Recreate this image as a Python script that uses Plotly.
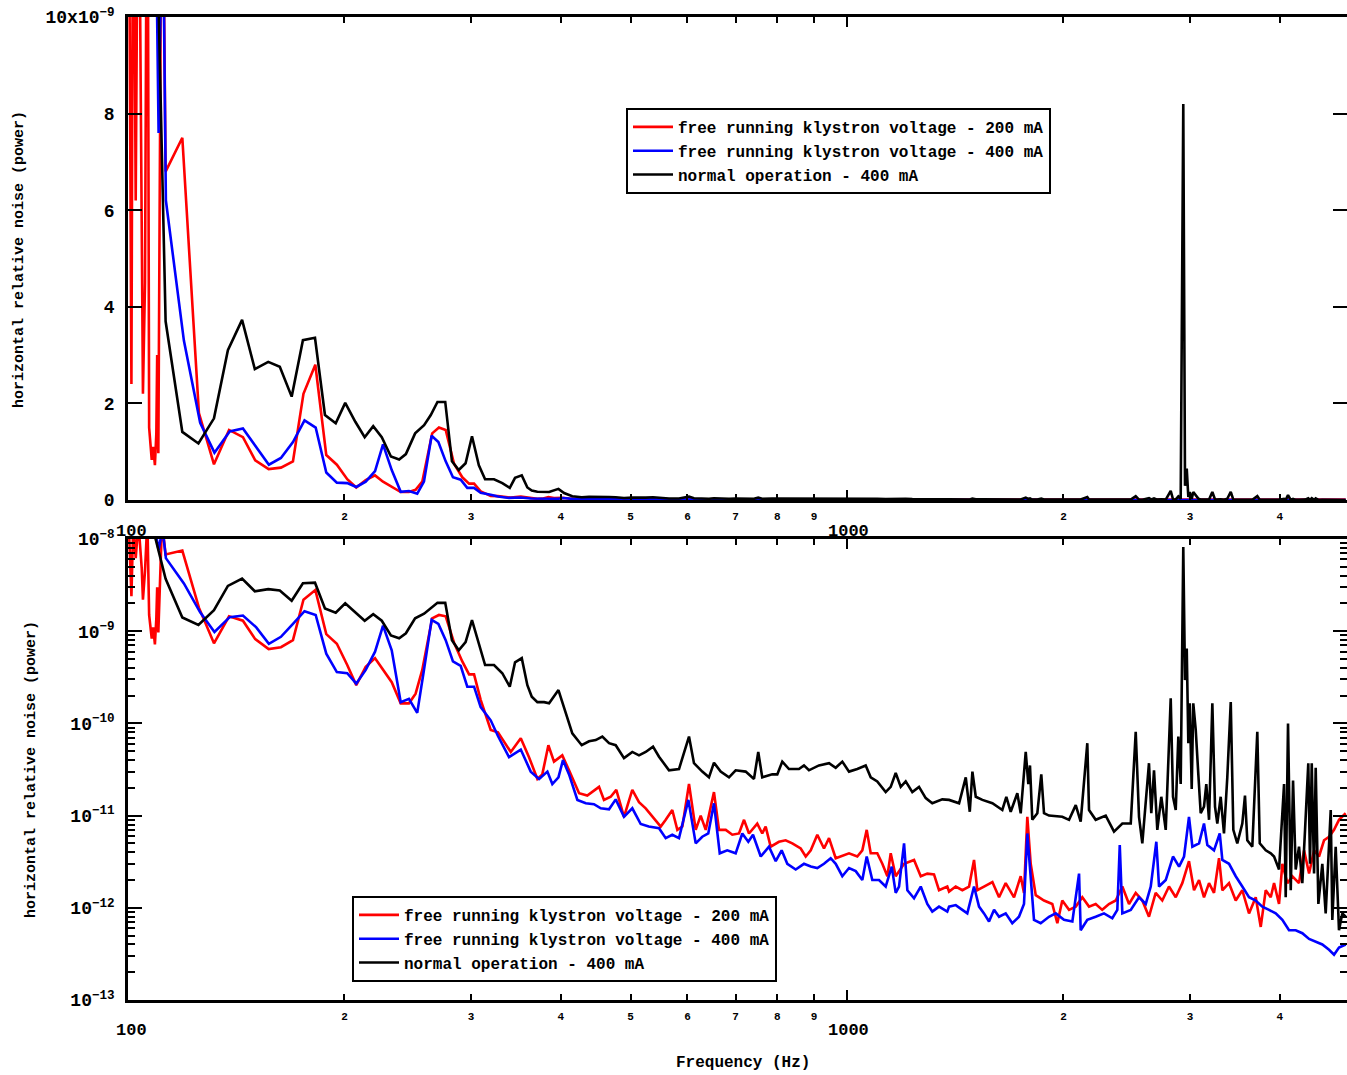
import plotly.graph_objects as go

W, H = 1347, 1075

# ---------------- data (frequency in Hz, relative noise power) ----------------
red_freq = [100.3, 101.1, 101.7, 102.5, 103.4, 104.5, 104.9, 105.6, 106.4, 107.0, 107.9, 108.4, 109.0, 109.5,
            109.8, 110.2, 111.5, 112.8, 119.0, 125.5, 131.7, 138.2, 144.5, 150.3, 156.9, 163.2, 169.6, 175.4,
            182.2, 188.7, 195.2, 201.8, 207.7, 214.1, 220.6, 226.3, 232.7, 239.5, 245.9, 251.2, 256.6, 264.9,
            270.7, 276.6, 284.1, 291.7, 298.1, 302.9, 309.4, 319.5, 327.0, 340.7, 351.8, 361.2, 371.0, 376.9,
            384.3, 391.3, 401.8, 410.6, 424.0, 435.3, 442.4, 452.0, 459.2, 469.2, 477.7, 489.6, 502.8, 513.7,
            524.8, 539.0, 550.7, 559.6, 571.5, 580.8, 590.2, 602.9, 616.0, 625.9, 636.1, 653.1, 663.7, 678.2,
            692.6, 707.6, 719.1, 730.6, 750.2, 762.3, 770.7, 783.2, 804.2, 821.6, 839.3, 862.2, 876.2, 890.4,
            909.3, 929.0, 944.1, 964.5, 985.1, 1006.5, 1033.5, 1050.3, 1065.2, 1078.9, 1101.8, 1119.8, 1138.0,
            1150.3, 1168.8, 1200.5, 1239.5, 1266.4, 1293.3, 1321.3, 1342.7, 1378.7, 1386.6, 1416.5, 1446.9,
            1478.3, 1502.0, 1517.9, 1550.7, 1593.0, 1627.4, 1662.3, 1707.3, 1744.2, 1762.7, 1781.5, 1800.9,
            1830.2, 1879.4, 1929.9, 1961.3, 1992.6, 2036.2, 2080.4, 2124.6, 2170.7, 2217.7, 2264.6, 2313.7,
            2364.7, 2415.2, 2467.4, 2520.9, 2574.8, 2630.3, 2687.2, 2744.7, 2804.3, 2865.6, 2926.4, 2989.8,
            3038.5, 3087.7, 3137.1, 3188.1, 3239.2, 3291.8, 3326.8, 3398.9, 3472.5, 3546.6, 3623.6, 3702.2,
            3762.3, 3822.6, 3884.7, 3926.1, 3989.1, 4031.6, 4097.1, 4162.7, 4252.7, 4321.9, 4392.1, 4462.5,
            4533.9, 4607.6, 4682.4, 4757.6, 4833.7, 4938.4]
red_val = [1.3e-8, 2.4e-9, 1.5e-8, 6.2e-9, 1.5e-8, 4.8e-9, 2.2e-9, 4.5e-9, 1.6e-8, 1.5e-9, 0.83e-9, 1.1e-9, 0.72e-9, 1.38e-9,
           3.0e-9, 0.97e-9, 1.5e-8, 6.8e-9, 7.5e-9, 1.8e-9, 0.74e-9, 1.45e-9, 1.3e-9, 0.82e-9, 0.64e-9, 0.67e-9, 0.8e-9, 2.2e-9,
           2.8e-9, 0.93e-9, 0.73e-9, 0.43e-9, 0.26e-9, 0.41e-9, 0.51e-9, 0.38e-9, 0.28e-9, 0.165e-9, 0.165e-9, 0.21e-9, 0.38e-9, 1.38e-9,
           1.5e-9, 1.45e-9, 0.75e-9, 0.47e-9, 0.34e-9, 0.34e-9, 0.18e-9, 8.5e-11, 8.0e-11, 4.9e-11, 6.9e-11, 4.3e-11, 2.5e-11, 2.8e-11,
           5.8e-11, 3.85e-11, 4.5e-11, 3.1e-11, 1.75e-11, 1.65e-11, 1.8e-11, 2.05e-11, 1.48e-11, 1.6e-11, 1.9e-11, 9.7e-12, 1.9e-11, 1.4e-11,
           1.2e-11, 9.3e-12, 7.6e-12, 9.0e-12, 1.15e-11, 7.0e-12, 7.6e-12, 2.2e-11, 7.0e-12, 1.0e-11, 7.0e-12, 1.8e-11, 7.0e-12, 7.0e-12,
           6.2e-12, 6.4e-12, 9.0e-12, 6.4e-12, 8.2e-12, 6.4e-12, 7.6e-12, 4.6e-12, 5.2e-12, 5.4e-12, 5.0e-12, 4.4e-12, 3.6e-12, 4.2e-12,
           6.2e-12, 4.4e-12, 5.7e-12, 3.45e-12, 3.7e-12, 3.9e-12, 3.6e-12, 4.2e-12, 7.0e-12, 3.9e-12, 3.9e-12, 3.0e-12, 2.2e-12,
           3.9e-12, 2.2e-12, 3.0e-12, 3.3e-12, 2.2e-12, 2.35e-12, 2.3e-12, 1.55e-12, 1.7e-12, 1.5e-12, 1.7e-12, 1.55e-12,
           1.7e-12, 3.3e-12, 1.55e-12, 1.7e-12, 1.9e-12, 1.3e-12, 1.85e-12, 1.3e-12, 2.2e-12, 1.45e-12, 9.7e-12, 3.0e-12,
           1.37e-12, 1.2e-12, 1.1e-12, 6.8e-13, 1.2e-12, 9.5e-13, 1.03e-12, 1.3e-12, 1.03e-12, 1.1e-12, 9.5e-13, 1.1e-12,
           1.2e-12, 1.7e-12, 1.1e-12, 1.45e-12, 1.2e-12, 8.0e-13, 1.45e-12, 1.2e-12, 1.7e-12, 1.3e-12, 1.85e-12, 3.2e-12,
           1.55e-12, 2.0e-12, 1.3e-12, 1.85e-12, 1.45e-12, 3.45e-12, 1.55e-12, 1.85e-12, 1.2e-12, 1.55e-12, 8.7e-13, 1.3e-12,
           6.2e-13, 1.55e-12, 1.3e-12, 1.85e-12, 1.1e-12, 3.0e-12, 1.85e-12, 2.2e-12, 1.85e-12, 4.2e-12, 2.35e-12, 4.2e-12,
           3.6e-12, 5.4e-12, 5.9e-12, 7.0e-12, 9.0e-12, 1.06e-11]

blue_freq = [108.7, 110.3, 111.7, 112.9, 119.6, 126.0, 131.9, 138.5, 144.5, 150.8, 157.0, 163.2, 169.6, 176.0,
             182.4, 188.7, 195.2, 201.8, 207.7, 214.1, 220.6, 226.3, 232.7, 239.5, 245.9, 252.5, 258.0, 264.4,
             270.2, 276.6, 283.1, 290.2, 296.4, 302.9, 309.4, 319.5, 327.0, 338.8, 351.8, 363.2, 373.0, 383.1,
             389.2, 396.9, 402.7, 410.6, 421.7, 433.2, 444.7, 454.5, 466.7, 476.8, 489.6, 502.8, 516.5, 530.0,
             547.7, 559.6, 571.5, 583.9, 601.7, 616.0, 629.1, 641.3, 653.1, 665.3, 681.5, 700.1, 715.1, 729.0,
             740.1, 758.6, 778.9, 795.9, 811.2, 826.0, 848.5, 871.3, 890.4, 909.3, 929.0, 949.1, 964.5, 985.1,
             1006.5, 1028.3, 1050.3, 1065.2, 1084.4, 1107.9, 1131.9, 1154.0, 1168.8, 1181.3, 1200.5, 1213.3,
             1239.5, 1266.4, 1293.3, 1314.1, 1342.7, 1378.7, 1386.6, 1416.5, 1446.9, 1470.0, 1502.0, 1526.3,
             1550.7, 1575.9, 1601.6, 1627.4, 1662.3, 1697.8, 1734.6, 1762.7, 1781.5, 1800.9, 1820.0, 1859.5,
             1909.6, 1951.3, 2003.6, 2057.9, 2102.5, 2113.5, 2158.8, 2217.7, 2277.5, 2338.8, 2376.7, 2395.3,
             2415.2, 2481.1, 2547.7, 2603.3, 2645.2, 2692.9, 2716.4, 2775.3, 2840.7, 2896.3, 2942.8, 2989.8,
             3022.4, 3087.7, 3137.1, 3170.8, 3239.2, 3299.3, 3326.8, 3398.9, 3472.5, 3546.6, 3623.6, 3702.2,
             3781.5, 3863.3, 3947.0, 4031.6, 4118.9, 4207.9, 4298.0, 4392.1, 4486.2, 4582.2, 4682.4, 4757.6,
             4833.7, 4938.4]
blue_val = [1.5e-8, 7.6e-9, 1.3e-8, 6.2e-9, 3.3e-9, 1.6e-9, 0.98e-9, 1.42e-9, 1.48e-9, 1.1e-9, 0.73e-9, 0.87e-9, 1.2e-9, 1.65e-9,
            1.5e-9, 0.57e-9, 0.36e-9, 0.35e-9, 0.27e-9, 0.38e-9, 0.6e-9, 1.15e-9, 0.62e-9, 0.17e-9, 0.185e-9, 0.13e-9, 0.38e-9, 1.33e-9,
            1.2e-9, 0.8e-9, 0.47e-9, 0.42e-9, 0.25e-9, 0.25e-9, 0.15e-9, 1.08e-10, 7.3e-11, 4.3e-11, 5.2e-11, 3.0e-11, 2.5e-11, 3.0e-11,
            2.2e-11, 2.6e-11, 4.0e-11, 2.8e-11, 1.48e-11, 1.36e-11, 1.33e-11, 1.2e-11, 1.17e-11, 1.5e-11, 9.7e-12, 1.2e-11, 8.1e-12, 7.6e-12,
            7.3e-12, 5.7e-12, 6.2e-12, 5.7e-12, 1.48e-11, 5.0e-12, 5.9e-12, 6.4e-12, 1.36e-11, 3.9e-12, 4.2e-12, 3.9e-12, 6.4e-12, 5.2e-12,
            6.2e-12, 3.6e-12, 4.6e-12, 3.2e-12, 4.2e-12, 3.0e-12, 2.6e-12, 3.0e-12, 2.8e-12, 2.7e-12, 3.0e-12, 3.45e-12, 3.0e-12, 2.2e-12,
            2.7e-12, 2.5e-12, 2.0e-12, 3.6e-12, 2.0e-12, 2.0e-12, 1.7e-12, 2.8e-12, 1.45e-12, 1.7e-12, 5.0e-12, 1.55e-12,
            1.27e-12, 1.7e-12, 1.1e-12, 9.1e-13, 1.03e-12, 9.1e-13, 1.03e-12, 1.07e-12, 9.5e-13, 8.7e-13, 1.7e-12, 1.03e-12,
            8.7e-13, 7.1e-13, 9.5e-13, 8.0e-13, 8.7e-13, 6.8e-13, 8.0e-13, 1.1e-12, 6.4e-12, 2.0e-12, 7.4e-13, 6.8e-13,
            8.0e-13, 8.7e-13, 7.4e-13, 7.1e-13, 2.35e-12, 5.7e-13, 7.4e-13, 8.0e-13, 8.7e-13, 7.7e-13, 9.5e-13, 4.8e-12,
            8.7e-13, 9.5e-13, 1.3e-12, 1.1e-12, 1.7e-12, 5.2e-12, 1.7e-12, 2.0e-12, 3.6e-12, 2.8e-12, 3.6e-12, 9.7e-12,
            4.6e-12, 5.0e-12, 8.2e-12, 4.8e-12, 4.2e-12, 6.4e-12, 3.3e-12, 3.0e-12, 2.2e-12, 1.7e-12, 1.3e-12, 1.2e-12,
            1.03e-12, 9.5e-13, 8.7e-13, 7.4e-13, 5.7e-13, 5.7e-13, 5.3e-13, 4.6e-13, 4.3e-13, 4.0e-13, 3.5e-13, 3.1e-13,
            3.7e-13, 4.0e-13]

black_freq = [101.0, 107.0, 112.8, 119.0, 125.3, 131.7, 137.7, 144.1, 150.1, 156.7, 162.6, 168.9, 175.1, 182.0,
              187.9, 194.5, 200.5, 207.1, 213.4, 219.3, 225.4, 232.1, 238.3, 243.5, 250.8, 258.1, 263.7, 269.4,
              276.2, 282.2, 288.4, 294.8, 300.9, 307.6, 313.8, 322.9, 331.6, 339.6, 345.4, 352.9, 359.3, 364.4,
              371.0, 379.1, 385.2, 396.9, 404.1, 414.9, 427.6, 437.7, 447.2, 456.8, 466.7, 476.8, 489.6, 502.8,
              513.7, 524.8, 537.3, 547.7, 565.5, 583.9, 602.9, 612.6, 629.1, 642.7, 653.1, 667.3, 685.3, 700.1,
              722.9, 742.4, 752.6, 762.3, 787.1, 799.9, 812.8, 830.4, 857.4, 871.3, 885.3, 914.1, 944.1, 964.5,
              985.1, 1006.5, 1033.5, 1061.7, 1078.9, 1101.8, 1131.9, 1150.3, 1168.8, 1187.8, 1206.9, 1232.7,
              1259.4, 1286.8, 1314.1, 1356.8, 1386.6, 1431.8, 1462.8, 1481.7, 1494.2, 1510.4, 1542.8, 1593.0,
              1644.4, 1665.7, 1689.2, 1725.4, 1744.2, 1772.5, 1787.3, 1796.8, 1810.1, 1839.5, 1863.0, 1879.4,
              1909.6, 1992.6, 2036.2, 2080.4, 2113.5, 2158.8, 2170.7, 2217.7, 2290.0, 2351.6, 2415.2, 2481.1,
              2520.9, 2547.7, 2574.8, 2630.3, 2649.8, 2673.0, 2701.5, 2736.0, 2775.3, 2819.8, 2840.7, 2865.6,
              2889.5, 2911.5, 2935.7, 2952.0, 2968.4, 2983.5, 2997.2, 3016.0, 3031.3, 3055.1, 3080.6, 3104.1,
              3137.1, 3160.3, 3188.1, 3222.0, 3249.6, 3273.6, 3309.2, 3344.4, 3380.0, 3417.6, 3446.0, 3489.9,
              3546.6, 3577.0, 3603.5, 3662.0, 3721.0, 3750.2, 3822.6, 3884.7, 3926.1, 3989.1, 4053.9, 4075.4,
              4105.6, 4141.7, 4172.3, 4207.9, 4252.7, 4298.0, 4335.8, 4381.0, 4405.3, 4429.7, 4462.5, 4486.2,
              4524.6, 4582.2, 4632.1, 4707.4, 4731.3, 4782.8, 4833.7, 4885.2, 4938.4]
black_val = [3.0e-8, 1.9e-8, 3.7e-9, 1.41e-9, 1.17e-9, 1.69e-9, 3.1e-9, 3.73e-9, 2.71e-9, 2.86e-9, 2.76e-9, 2.14e-9, 3.31e-9, 3.36e-9,
             1.76e-9, 1.59e-9, 2.01e-9, 1.62e-9, 1.30e-9, 1.53e-9, 1.30e-9, 0.90e-9, 0.84e-9, 0.95e-9, 1.38e-9, 1.55e-9, 1.76e-9, 2.03e-9,
             2.03e-9, 0.80e-9, 0.62e-9, 0.76e-9, 1.32e-9, 0.72e-9, 0.43e-9, 0.43e-9, 0.35e-9, 0.25e-9, 0.46e-9, 0.51e-9, 0.26e-9, 0.195e-9,
             0.17e-9, 0.17e-9, 0.165e-9, 0.23e-9, 0.145e-9, 7.8e-11, 5.8e-11, 6.4e-11, 6.6e-11, 7.2e-11, 6.1e-11, 5.8e-11, 4.2e-11, 4.9e-11,
             4.5e-11, 4.9e-11, 5.6e-11, 4.35e-11, 3.1e-11, 3.2e-11, 7.2e-11, 3.7e-11, 3.0e-11, 2.6e-11, 3.75e-11, 3.0e-11, 2.6e-11, 3.1e-11,
             3.0e-11, 2.5e-11, 4.9e-11, 2.6e-11, 2.8e-11, 2.8e-11, 3.85e-11, 3.2e-11, 3.2e-11, 3.5e-11, 3.1e-11, 3.5e-11, 3.7e-11, 3.3e-11,
             3.85e-11, 3.0e-11, 3.2e-11, 3.5e-11, 2.6e-11, 2.35e-11, 1.8e-11, 2.05e-11, 2.9e-11, 2.05e-11, 2.35e-11, 1.8e-11,
             2.05e-11, 1.55e-11, 1.36e-11, 1.5e-11, 1.48e-11, 1.36e-11, 2.6e-11, 1.1e-11, 3.0e-11, 1.6e-11, 1.48e-11, 1.36e-11,
             1.15e-11, 1.6e-11, 1.1e-11, 1.75e-11, 1.06e-11, 4.9e-11, 2.2e-11, 3.5e-11, 9.0e-12, 1.06e-11, 2.8e-11, 1.06e-11,
             1.0e-11, 9.7e-12, 9.0e-12, 1.3e-11, 8.6e-12, 6.1e-11, 1.15e-11, 9.0e-12, 1.0e-11, 6.7e-12, 8.2e-12, 8.2e-12,
             8.1e-11, 9.7e-12, 5.0e-12, 3.7e-11, 1.06e-11, 3.1e-11, 7.0e-12, 1.6e-11, 7.0e-12, 1.87e-10, 1.6e-11, 1.15e-11,
             7.2e-11, 2.2e-11, 8.2e-9, 2.95e-10, 6.5e-10, 6.1e-11, 1.65e-10, 1.95e-11, 1.65e-10, 8.5e-11, 2.8e-11, 1.06e-11,
             1.25e-11, 2.2e-11, 9.0e-12, 1.65e-10, 1.25e-11, 8.2e-12, 1.6e-11, 6.4e-12, 2.6e-11, 1.7e-10, 7.0e-12, 5.0e-12,
             8.2e-12, 1.65e-11, 5.4e-12, 4.6e-12, 8.1e-11, 5.0e-12, 4.2e-12, 3.9e-12, 3.6e-12, 2.6e-12, 2.2e-11, 1.3e-12,
             1.0e-10, 1.55e-12, 2.4e-11, 2.6e-12, 4.6e-12, 1.85e-12, 7.0e-12, 3.7e-11, 3.0e-12, 3.7e-11, 2.35e-12, 3.3e-11,
             1.1e-12, 3.0e-12, 8.7e-13, 1.15e-11, 7.4e-13, 4.6e-12, 5.7e-13, 8.7e-13, 8.0e-13]

series_names = ["free running klystron voltage - 200 mA",
                "free running klystron voltage - 400 mA",
                "normal operation - 400 mA"]
series_colors = ["#ff0000", "#0000ff", "#000000"]
series_freq = [red_freq, blue_freq, black_freq]
series_vals = [red_val, blue_val, black_val]

x_tickvals = [200, 300, 400, 500, 600, 700, 800, 900, 2000, 3000, 4000]
x_ticktext = ["2", "3", "4", "5", "6", "7", "8", "9", "2", "3", "4"]
top_y_tickvals = [0, 2e-9, 4e-9, 6e-9, 8e-9, 1e-8]
top_y_ticktext = ["0", "2", "4", "6", "8", "10x10<sup>−9</sup>"]
log_y_tickvals = [1e-13, 1e-12, 1e-11, 1e-10, 1e-9, 1e-8]
log_y_ticktext = ["10<sup>−13</sup>", "10<sup>−12</sup>", "10<sup>−11</sup>",
                  "10<sup>−10</sup>", "10<sup>−9</sup>", "10<sup>−8</sup>"]
log_minor = [m * d for d in (1e-13, 1e-12, 1e-11, 1e-10, 1e-9) for m in range(2, 10)]

# ---------------- figure ----------------
MONO = "Liberation Mono"
LW = 2.6
fig = go.Figure()
for name, fx, fy, col in zip(series_names, series_freq, series_vals, series_colors):
    fig.add_trace(go.Scatter(x=fx, y=fy, mode="lines", name=name, line=dict(color=col, width=LW),
                             xaxis="x", yaxis="y", legend="legend"))
for name, fx, fy, col in zip(series_names, series_freq, series_vals, series_colors):
    fig.add_trace(go.Scatter(x=fx, y=fy, mode="lines", name=name, line=dict(color=col, width=LW),
                             xaxis="x2", yaxis="y2", legend="legend2"))

x_left = 128 / W
x_hi = 2 + (W - 128) / 719.0

def px_y(py):
    return 1 - py / H

xax = dict(type="log", range=[2, x_hi], domain=[x_left, 1], tickvals=x_tickvals, ticktext=x_ticktext,
           ticks="inside", ticklen=6, tickwidth=2, tickcolor="black", showline=True, linewidth=2.5,
           linecolor="black", mirror="ticks", showgrid=False, zeroline=False,
           tickfont=dict(family=MONO, size=11, color="black", weight="bold"), ticklabelstandoff=4,
           minor=dict(tickmode="array", tickvals=[1000], ticks="inside", ticklen=10, tickwidth=2,
                      tickcolor="black"),
           automargin=False)
tick_font = dict(family=MONO, size=18, color="black", weight="bold")
fig.update_layout(
    width=W, height=H, margin=dict(l=0, r=0, t=0, b=0),
    paper_bgcolor="white", plot_bgcolor="white",
    xaxis=dict(xax, anchor="y"),
    xaxis2=dict(xax, anchor="y2"),
    yaxis=dict(domain=[px_y(500), px_y(17)], range=[0, 1e-8], tickvals=top_y_tickvals, ticktext=top_y_ticktext,
               ticks="inside", ticklen=14, tickwidth=2, tickcolor="black", showline=True, linewidth=2.5,
               linecolor="black", mirror="ticks", showgrid=False, zeroline=False, anchor="x",
               tickfont=tick_font, ticklabelstandoff=7, automargin=False),
    yaxis2=dict(type="log", domain=[px_y(1000), px_y(539)], range=[-13, -8], tickvals=log_y_tickvals,
                ticktext=log_y_ticktext, ticks="inside", ticklen=14, tickwidth=2, tickcolor="black",
                showline=True, linewidth=2.5, linecolor="black", mirror="ticks", showgrid=False,
                zeroline=False, anchor="x2", tickfont=tick_font, ticklabelstandoff=7,
                minor=dict(tickmode="array", tickvals=log_minor, ticks="inside", ticklen=7, tickwidth=2,
                           tickcolor="black"),
                automargin=False),
    legend=dict(x=626 / W, y=px_y(108), xanchor="left", yanchor="top", bgcolor="white",
                bordercolor="black", borderwidth=2,
                font=dict(family=MONO, size=16, color="black", weight="bold"),
                tracegroupgap=0, itemwidth=40),
    legend2=dict(x=352 / W, y=px_y(896), xanchor="left", yanchor="top", bgcolor="white",
                 bordercolor="black", borderwidth=2,
                 font=dict(family=MONO, size=16, color="black", weight="bold"),
                 tracegroupgap=0, itemwidth=40),
    showlegend=True,
)

ann_font = dict(family=MONO, size=17, color="black", weight="bold")
annots = [
    (131, 531, "100", 0), (848, 531, "1000", 0),
    (131, 1030, "100", 0), (848, 1030, "1000", 0),
    (743, 1063, "Frequency (Hz)", 0),
    (20, 260, "horizontal relative noise (power)", -90),
    (31, 770, "horizontal relative noise (power)", -90),
]
for ax_, ay_, txt, ang in annots:
    fnt = ann_font if ang == 0 else dict(family=MONO, size=15, color="black", weight="bold")
    if txt.startswith("Freq"):
        fnt = dict(family=MONO, size=16, color="black", weight="bold")
    fig.add_annotation(x=ax_ / W, y=px_y(ay_), xref="paper", yref="paper", text=txt, showarrow=False,
                       textangle=ang, font=fnt, xanchor="center", yanchor="middle")

fig.write_html("out.html")
